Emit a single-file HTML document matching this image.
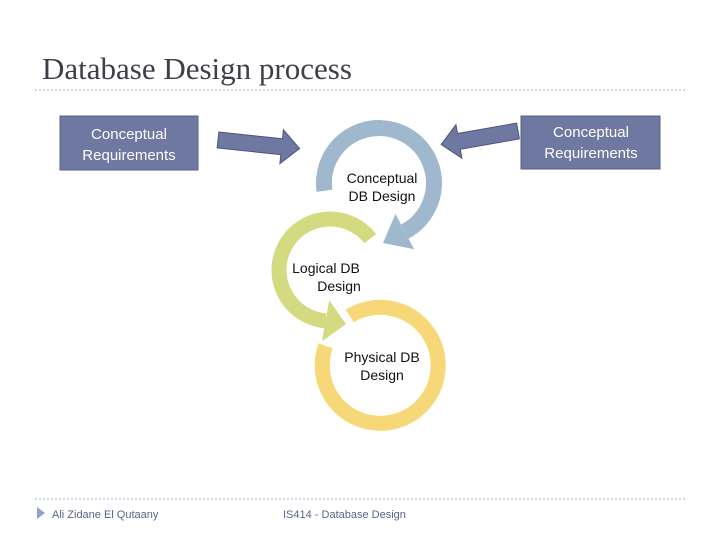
<!DOCTYPE html>
<html><head><meta charset="utf-8"><style>
html,body{margin:0;padding:0;background:#fff}
svg{display:block}
</style></head><body>
<svg width="720" height="540" viewBox="0 0 720 540" xmlns="http://www.w3.org/2000/svg">
<text x="42" y="79" font-family="Liberation Serif, serif" font-size="31" fill="#3f3f4a">Database Design process</text>
<line x1="35" y1="90" x2="686" y2="90" stroke="#b7c3d3" stroke-width="1.2" stroke-dasharray="2,2"/>
<line x1="35" y1="499" x2="686" y2="499" stroke="#b7c3d3" stroke-width="1.2" stroke-dasharray="2,2"/>
<polygon points="37,507 45,513 37,519" fill="#8fa3c6"/>
<text x="52" y="518" font-family="Liberation Sans, sans-serif" font-size="11" fill="#5a6488">Ali Zidane El Qutaany</text>
<text x="283" y="518" font-family="Liberation Sans, sans-serif" font-size="11" fill="#5a6488">IS414 - Database Design</text>

<rect x="60" y="116" width="138" height="54" fill="#6e78a0" stroke="#56618a" stroke-width="1"/>
<text x="129" y="139" text-anchor="middle" font-family="Liberation Sans, sans-serif" font-size="15" fill="#fff">Conceptual</text>
<text x="129" y="160" text-anchor="middle" font-family="Liberation Sans, sans-serif" font-size="15" fill="#fff">Requirements</text>
<rect x="521" y="116" width="139" height="53" fill="#6e78a0" stroke="#56618a" stroke-width="1"/>
<text x="591" y="137" text-anchor="middle" font-family="Liberation Sans, sans-serif" font-size="15" fill="#fff">Conceptual</text>
<text x="591" y="158" text-anchor="middle" font-family="Liberation Sans, sans-serif" font-size="15" fill="#fff">Requirements</text>

<g transform="translate(218,140) rotate(6)">
<polygon points="0,-8 64,-8 64,-17 82,0 64,17 64,8 0,8" fill="#6e78a0" stroke="#4a5580" stroke-width="1"/>
</g>
<g transform="translate(518,131) rotate(170)">
<polygon points="0,-8 60,-8 60,-17 78,0 60,17 60,8 0,8" fill="#6e78a0" stroke="#4a5580" stroke-width="1"/>
</g>

<!-- yellow -->
<path d="M349.7,316 A58,58 0 1 1 325.6,345.8" fill="none" stroke="#f7d878" stroke-width="15"/>
<!-- green -->
<path d="M370.2,238.6 A51,51 0 1 0 325.6,320.8" fill="none" stroke="#d3da7f" stroke-width="15"/>
<polygon points="321.9,341.4 329.2,300.2 346,324" fill="#d3da7f"/>
<!-- blue -->
<path d="M324.5,190.7 A55,55 0 1 1 404.8,231.6" fill="none" stroke="#9fb8cd" stroke-width="16"/>
<polygon points="414.2,249.3 395.4,213.9 383,243" fill="#9fb8cd"/>

<g font-family="Liberation Sans, sans-serif" font-size="14" fill="#111" text-anchor="middle">
<text x="382" y="183">Conceptual</text>
<text x="382" y="201">DB Design</text>
<text x="326" y="273">Logical DB</text>
<text x="339" y="291">Design</text>
<text x="382" y="362">Physical DB</text>
<text x="382" y="380">Design</text>
</g>
</svg>
</body></html>
